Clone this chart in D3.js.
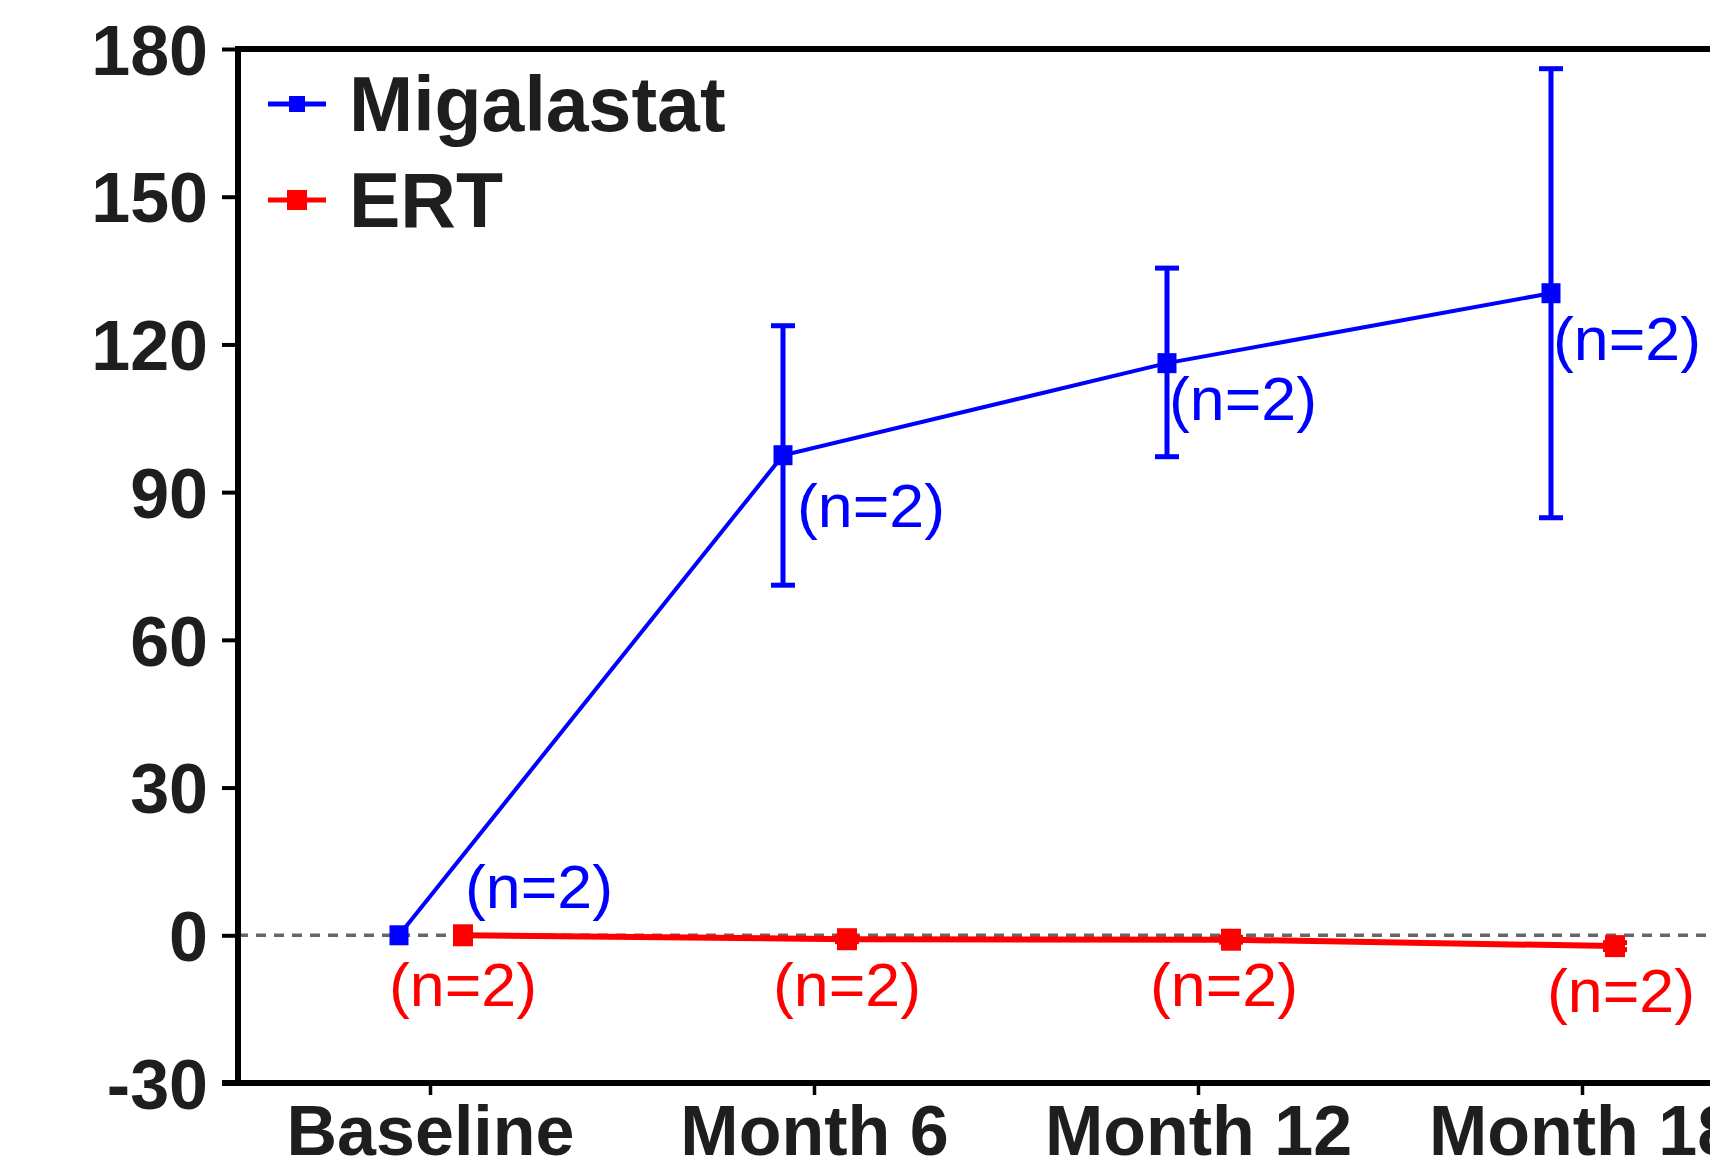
<!DOCTYPE html>
<html lang="en">
<head>
  <meta charset="utf-8">
  <script src="https://d3js.org/d3.v7.min.js"></script>
  <style>
    body {
      margin: 0;
      background: #fff;
      overflow: hidden;
    }

    .tick-label {
      font: bold 70px "Liberation Sans", Arial, sans-serif;
      fill: #1e1e1e;
    }

    .legend-label {
      font: bold 77px "Liberation Sans", Arial, sans-serif;
      fill: #1e1e1e;
    }

    .n-label {
      font: 62px "Liberation Sans", Arial, sans-serif;
    }
  </style>
</head>
<body>
<div id="chart"></div>
<script>
  // data
  var categories = ["Baseline", "Month 6", "Month 12", "Month 18"];
  var yTicks = [-30, 0, 30, 60, 90, 120, 150, 180];

  var migalastatMean = [0, 97.5, 116.2, 130.4];
  var migalastatLow = [0, 71.1, 97.2, 84.8];
  var migalastatHigh = [0, 123.8, 135.5, 176];

  var ertMean = [0, -0.8, -0.9, -2.2];
  var ertLow = [0, -1.3, -1.4, -2.9];
  var ertHigh = [0, -0.3, -0.4, -1.5];

  var nLabels = ["(n=2)", "(n=2)", "(n=2)", "(n=2)"];

  // label anchors (data units for y, pixel nudges for x)
  var migLabelY = [10, 87.4, 109.2, 121.3];
  var migLabelDx = [35, -17, -29, -29];
  var ertLabelY = [-9.8, -9.8, -9.8, -11];
  var ertLabelDx = [33, 33, 26, 39];

  var width = 1710, height = 1163;
  var plot = {left: 238, top: 49, right: 1774, bottom: 1083};

  var svg = d3.select("#chart").append("svg")
          .attr("width", width)
          .attr("height", height);

  var x = d3.scalePoint().domain(categories).range([plot.left, plot.right]).padding(0.5);
  var y = d3.scaleLinear().domain([-30, 180]).range([plot.bottom, plot.top]);

  var blue = "#0000ff", red = "#ff0000";
  var blueOff = -31, redOff = 33;

  // zero reference line
  svg.append("line")
          .attr("x1", plot.left).attr("x2", width)
          .attr("y1", y(0)).attr("y2", y(0))
          .attr("stroke", "#666")
          .attr("stroke-width", 3.5)
          .attr("stroke-dasharray", "10,8");

  // axes
  var yAxis = svg.append("g")
          .attr("transform", "translate(" + plot.left + ",0)")
          .call(d3.axisLeft(y).tickValues(yTicks).tickSize(16).tickPadding(14)
                  .tickFormat(function (d) { return String(d); }));
  yAxis.select(".domain").remove();
  yAxis.selectAll(".tick line").attr("stroke", "#000").attr("stroke-width", 4);
  yAxis.selectAll(".tick text").attr("class", "tick-label").attr("dy", "0.36em");

  var xAxis = svg.append("g")
          .attr("transform", "translate(0," + plot.bottom + ")")
          .call(d3.axisBottom(x).tickSize(12).tickPadding(20));
  xAxis.select(".domain").remove();
  xAxis.selectAll(".tick line").attr("stroke", "#000").attr("stroke-width", 3.5);
  xAxis.selectAll(".tick text").attr("class", "tick-label")
          .attr("y", 72).attr("dy", null);

  // frame
  svg.append("path")
          .attr("d", "M" + plot.left + "," + plot.bottom + "V" + plot.top + "H" + plot.right
                  + "M" + (plot.left - 16) + "," + plot.bottom + "H" + plot.right)
          .attr("fill", "none")
          .attr("stroke", "#000")
          .attr("stroke-width", 6);

  function drawSeries(mean, low, high, color, off, lineW, mw, mh) {
    var g = svg.append("g");
    var pts = categories.map(function (c, i) {
      return {x: x(c) + off, m: mean[i], lo: low[i], hi: high[i]};
    });

    g.append("path")
            .datum(pts)
            .attr("fill", "none")
            .attr("stroke", color)
            .attr("stroke-width", lineW)
            .attr("d", d3.line().x(function (d) { return d.x; }).y(function (d) { return y(d.m); }));

    var eb = g.selectAll(".eb").data(pts.filter(function (d) { return d.hi - d.lo > 0.1; }))
            .enter().append("g");
    eb.append("line")
            .attr("x1", function (d) { return d.x; }).attr("x2", function (d) { return d.x; })
            .attr("y1", function (d) { return y(d.lo); }).attr("y2", function (d) { return y(d.hi); })
            .attr("stroke", color).attr("stroke-width", 5);
    eb.selectAll(".cap").data(function (d) { return [d.lo, d.hi].map(function (v) { return {x: d.x, v: v}; }); })
            .enter().append("line")
            .attr("x1", function (d) { return d.x - 12; }).attr("x2", function (d) { return d.x + 12; })
            .attr("y1", function (d) { return y(d.v); }).attr("y2", function (d) { return y(d.v); })
            .attr("stroke", color).attr("stroke-width", 5);

    g.selectAll("rect").data(pts).enter().append("rect")
            .attr("x", function (d) { return d.x - mw / 2; })
            .attr("y", function (d) { return y(d.m) - mh / 2; })
            .attr("width", mw).attr("height", mh)
            .attr("fill", color);
  }

  drawSeries(migalastatMean, migalastatLow, migalastatHigh, blue, blueOff, 4, 19, 20);
  drawSeries(ertMean, ertLow, ertHigh, red, redOff, 6, 20, 22);

  // n labels
  svg.selectAll(".mig-n").data(nLabels).enter().append("text")
          .attr("class", "n-label")
          .attr("x", function (d, i) { return x(categories[i]) + migLabelDx[i]; })
          .attr("y", function (d, i) { return y(migLabelY[i]); })
          .attr("dy", "0.36em")
          .attr("textLength", 148)
          .attr("lengthAdjust", "spacingAndGlyphs")
          .attr("fill", blue)
          .text(function (d) { return d; });

  svg.selectAll(".ert-n").data(nLabels).enter().append("text")
          .attr("class", "n-label")
          .attr("x", function (d, i) { return x(categories[i]) + ertLabelDx[i] - 74; })
          .attr("y", function (d, i) { return y(ertLabelY[i]); })
          .attr("dy", "0.36em")
          .attr("textLength", 148)
          .attr("lengthAdjust", "spacingAndGlyphs")
          .attr("fill", red)
          .text(function (d) { return d; });

  // legend
  var legend = [{name: "Migalastat", color: blue, y: 104, size: 16},
    {name: "ERT", color: red, y: 200, size: 20}];
  var lg = svg.selectAll(".legend").data(legend).enter().append("g");
  lg.append("line")
          .attr("x1", 268).attr("x2", 326)
          .attr("y1", function (d) { return d.y; }).attr("y2", function (d) { return d.y; })
          .attr("stroke", function (d) { return d.color; })
          .attr("stroke-width", 5);
  lg.append("rect")
          .attr("x", function (d) { return 297 - d.size / 2; })
          .attr("y", function (d) { return d.y - d.size / 2; })
          .attr("width", function (d) { return d.size; })
          .attr("height", function (d) { return d.size; })
          .attr("fill", function (d) { return d.color; });
  lg.append("text")
          .attr("class", "legend-label")
          .attr("x", 349)
          .attr("y", function (d) { return d.y + 27; })
          .text(function (d) { return d.name; });
</script>
</body>
</html>
